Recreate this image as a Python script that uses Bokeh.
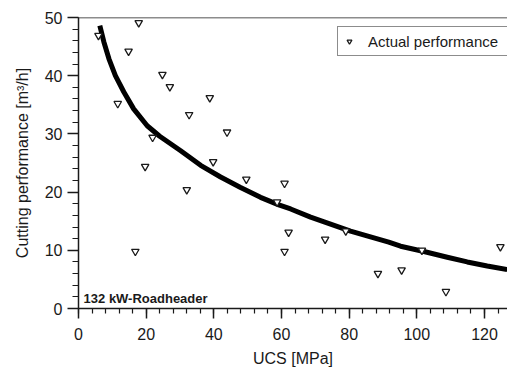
from bokeh.plotting import figure
from bokeh.models import Range1d, Span, Label, Legend, LegendItem, FixedTicker
from bokeh.embed import file_html
from bokeh.resources import INLINE

# Measured data (UCS in MPa, cutting performance in m3/h)
ucs = [5.9, 17.8, 14.8, 11.6, 24.8, 27.0, 38.8, 32.7, 43.9, 21.9, 39.8, 19.7,
       49.6, 32.0, 16.8, 60.9, 58.7, 62.1, 60.9, 72.9, 79.0, 88.5, 95.5,
       101.5, 108.6, 124.7]
perf = [46.9, 49.1, 44.2, 35.2, 40.2, 38.1, 36.2, 33.3, 30.3, 29.4, 25.2, 24.4,
        22.2, 20.4, 9.8, 21.5, 18.3, 13.1, 9.8, 11.9, 13.3, 6.0, 6.6,
        10.0, 2.9, 10.6]

# Trend curve
curve_x = [6.3, 7.5, 9.0, 10.9, 13.4, 16.3, 20.3, 24.0, 30.2, 36.1, 42.0,
           47.9, 53.8, 59.2, 62.7, 68.6, 74.5, 80.4, 86.3, 91.7, 95.2, 102.1,
           109.0, 114.9, 120.8, 126.7]
curve_y = [48.6, 45.8, 42.9, 40.0, 37.2, 34.3, 31.4, 29.6, 27.1, 24.6, 22.6,
           20.8, 19.1, 17.8, 17.1, 15.7, 14.5, 13.3, 12.3, 11.4, 10.7, 9.8,
           8.8, 8.0, 7.3, 6.7]

x_ticks = [0, 20, 40, 60, 80, 100, 120]
y_ticks = [0, 10, 20, 30, 40, 50]

FONT = "Liberation Sans"
INK = "#1a1a1a"

p = figure(width=507, height=372, output_backend="svg", toolbar_location=None,
           x_range=Range1d(0, 126.8), y_range=Range1d(0, 50),
           min_border_left=78, min_border_right=0, min_border_top=17,
           min_border_bottom=64)
p.outline_line_color = None
p.grid.grid_line_color = None
p.background_fill_color = "white"
p.border_fill_color = "white"

p.line(curve_x, curve_y, line_color="black", line_width=5, line_join="round")
sc = p.scatter(ucs, perf, marker="inverted_triangle", size=7.5,
               fill_color="white", line_color=INK, line_width=1.3)

top = Span(location=50, dimension="width", line_color=INK, line_width=1.5)
p.add_layout(top)

for ax in (p.xaxis[0], p.yaxis[0]):
    ax.axis_line_color = INK
    ax.axis_line_width = 1.5
    ax.major_tick_line_color = INK
    ax.major_tick_line_width = 1.5
    ax.minor_tick_line_color = INK
    ax.minor_tick_line_width = 1.2
    ax.major_tick_in = 0
    ax.minor_tick_in = 0
    ax.major_label_text_font = FONT
    ax.major_label_text_font_size = "16px"
    ax.major_label_text_color = INK
    ax.axis_label_text_font = FONT
    ax.axis_label_text_font_size = "16px"
    ax.axis_label_text_font_style = "normal"
    ax.axis_label_text_color = INK

p.xaxis.ticker = FixedTicker(ticks=x_ticks, minor_ticks=list(range(0, 128, 4)))
p.yaxis.ticker = FixedTicker(ticks=y_ticks, minor_ticks=list(range(0, 51, 2)))
p.xaxis.major_tick_out = 10
p.xaxis.minor_tick_out = 5
p.yaxis.major_tick_out = 11
p.yaxis.minor_tick_out = 6
p.xaxis.major_label_standoff = 9
p.yaxis.major_label_standoff = 5
p.xaxis.axis_label = "UCS [MPa]"
p.yaxis.axis_label = "Cutting performance [m³/h]"
p.xaxis.axis_label_standoff = 7
p.yaxis.axis_label_standoff = 11

lab = Label(x=1.5, y=1.7, text="132 kW-Roadheader", text_font=FONT,
            text_font_size="13px", text_font_style="bold", text_color=INK,
            text_baseline="alphabetic")
p.add_layout(lab)

legend = Legend(items=[LegendItem(label="Actual performance", renderers=[sc])],
                location=(259, 252), padding=5, glyph_width=12, glyph_height=18,
                label_height=18, label_width=150, label_standoff=13, margin=0,
                border_line_color=INK, border_line_width=1,
                background_fill_color="white", background_fill_alpha=1,
                label_text_font=FONT, label_text_font_size="15px",
                label_text_color=INK)
p.add_layout(legend)

open("out.html", "w").write(file_html(p, INLINE))
